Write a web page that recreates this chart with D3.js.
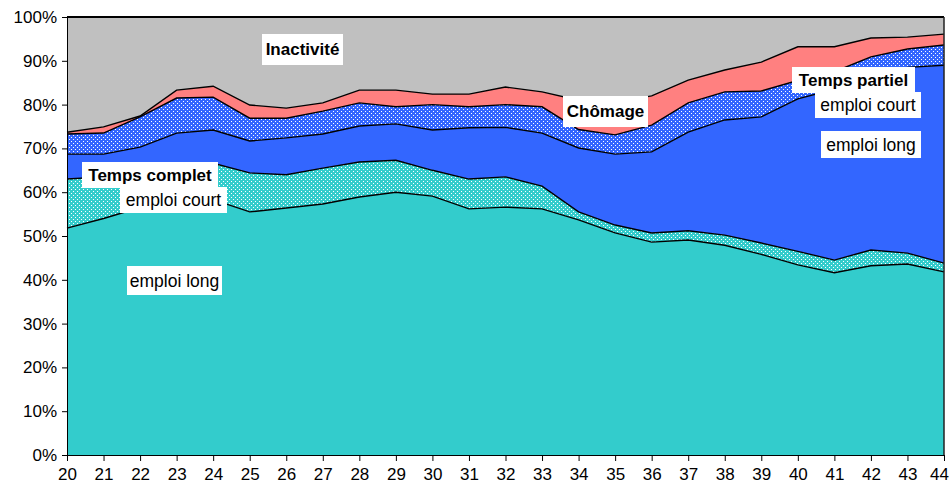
<!DOCTYPE html>
<html>
<head>
<meta charset="utf-8">
<script src="https://cdn.jsdelivr.net/npm/d3@7"></script>
<style>
  body { margin: 0; background: #fff; }
  text { font-family: Arial, "Liberation Sans", sans-serif; }
</style>
</head>
<body>
<svg width="950" height="488"></svg>
<script>
// ages (x categories)
var ages = [20,21,22,23,24,25,26,27,28,29,30,31,32,33,34,35,36,37,38,39,40,41,42,43,44];

// shares in % (stacked from bottom to top)
var tcLong   = [51.8,54.0,56.5,57.8,58.3,55.5,56.4,57.3,58.9,60.0,59.1,56.2,56.6,56.2,53.7,50.7,48.6,49.1,47.9,45.8,43.4,41.6,43.2,43.6,41.8];
var tcCourt  = [11.2,9.5,8.5,8.5,8.3,8.9,7.6,8.2,8.0,7.3,5.9,6.8,6.9,5.2,1.8,1.8,2.1,2.1,2.3,2.6,3.1,2.9,3.6,2.5,2.0];
var tpLong   = [5.7,5.2,5.3,7.2,7.6,7.3,8.4,7.8,8.2,8.3,9.2,11.7,11.3,12.1,14.6,16.2,18.5,22.5,26.3,28.8,34.8,39.0,39.7,42.4,45.2];
var tpCourt  = [4.6,4.8,6.9,8.0,7.5,5.2,4.5,5.2,5.3,3.9,5.8,4.8,5.2,6.0,4.2,4.4,6.1,6.7,6.4,5.9,4.2,4.0,4.4,4.2,4.6];
var chomage  = [0.4,1.4,0.2,1.8,2.5,3.0,2.3,1.9,2.9,3.8,2.4,2.9,4.0,3.4,6.7,7.4,6.7,5.2,5.0,6.6,7.7,5.7,4.3,2.7,2.5];
var inactivite = [26.3,25.1,22.6,16.7,15.8,20.1,20.8,19.6,16.7,16.7,17.6,17.6,16.0,17.1,19.0,19.5,18.0,14.4,12.1,10.3,6.8,6.8,4.8,4.6,3.9];

var yTicks = [0,10,20,30,40,50,60,70,80,90,100];

function main() {
  var svg = d3.select("svg"),
      margin = {top: 17, right: 6, bottom: 33, left: 67},
      width = +svg.attr("width") - margin.left - margin.right,
      height = +svg.attr("height") - margin.top - margin.bottom;

  var keys = ["tcLong","tcCourt","tpLong","tpCourt","chomage","inactivite"];
  var fills = {
    tcLong: "#33CCCC", tcCourt: "url(#dotTeal)",
    tpLong: "#3366FF", tpCourt: "url(#dotBlue)",
    chomage: "#FF8080", inactivite: "#C0C0C0"
  };

  var table = ages.map(function(a, i) {
    return {age: a, tcLong: tcLong[i], tcCourt: tcCourt[i], tpLong: tpLong[i],
            tpCourt: tpCourt[i], chomage: chomage[i], inactivite: inactivite[i]};
  });

  // dotted patterns
  var defs = svg.append("defs");
  [["dotTeal","#33CCCC"],["dotBlue","#3366FF"]].forEach(function(p) {
    var pat = defs.append("pattern").attr("id", p[0])
      .attr("patternUnits","userSpaceOnUse").attr("width",4).attr("height",4);
    pat.append("rect").attr("width",4).attr("height",4).attr("fill",p[1]);
    pat.append("rect").attr("x",0).attr("y",0).attr("width",1).attr("height",1).attr("fill","#fff");
    pat.append("rect").attr("x",2).attr("y",2).attr("width",1).attr("height",1).attr("fill","#fff");
  });

  var g = svg.append("g").attr("transform", `translate(${margin.left},${margin.top})`);

  var x = d3.scaleLinear().domain([ages[0], ages[ages.length-1]]).range([0, width]);
  var y = d3.scaleLinear().domain([0, 100]).range([height, 0]);

  var series = d3.stack().keys(keys)(table);

  var area = d3.area()
    .x(d => x(d.data.age))
    .y0(d => y(d[0]))
    .y1(d => y(d[1]));

  g.selectAll(".layer")
    .data(series)
    .join("path")
      .attr("class","layer")
      .attr("d", area)
      .attr("fill", d => fills[d.key]);

  var line = d3.line().x(d => x(d.data.age)).y(d => y(d[1]));
  g.selectAll(".edge")
    .data(series.slice(0, 5))
    .join("path")
      .attr("class","edge")
      .attr("d", line)
      .attr("fill","none")
      .attr("stroke","#000")
      .attr("stroke-width",1.4);

  // plot frame top/right
  g.append("line").attr("x1",0).attr("x2",width).attr("y1",0).attr("y2",0)
    .attr("stroke","#000").attr("stroke-width",2);
  g.append("line").attr("x1",width).attr("x2",width).attr("y1",0).attr("y2",height)
    .attr("stroke","#222").attr("stroke-width",1.5);

  // axes
  var yAxis = g.append("g")
    .call(d3.axisLeft(y).tickValues(yTicks).tickFormat(d => d + "%").tickSize(5).tickPadding(5));
  yAxis.selectAll("text").style("font-size","17px").attr("fill","#000");
  yAxis.select(".domain").attr("stroke","#000");

  var xAxis = g.append("g")
    .attr("transform", `translate(0,${height})`)
    .call(d3.axisBottom(x).tickValues(ages).tickFormat(d3.format("d")).tickSize(6).tickPadding(7));
  xAxis.selectAll("text").style("font-size","17px").attr("fill","#000");
  xAxis.select(".domain").attr("stroke","#000");
  // keep the last label inside the window
  xAxis.selectAll(".tick").filter(d => d === ages[ages.length-1])
    .select("text").attr("dx", -5);

  // labels with white boxes
  var labels = [
    {t:"Inactivité",    x:262, y:34,  w:81,  h:31, bold:true},
    {t:"Temps complet", x:82,  y:162, w:136, h:26, bold:true},
    {t:"emploi court",  x:120, y:187, w:107, h:26, bold:false},
    {t:"emploi long",   x:127, y:266, w:95,  h:29, bold:false},
    {t:"Chômage",       x:563, y:96,  w:85,  h:31, bold:true},
    {t:"Temps partiel", x:792, y:67,  w:123, h:26, bold:true},
    {t:"emploi court",  x:815, y:92,  w:106, h:26, bold:false},
    {t:"emploi long",   x:821, y:131, w:100, h:27, bold:false}
  ];
  var lg = svg.append("g");
  labels.forEach(function(l) {
    lg.append("rect").attr("x",l.x).attr("y",l.y).attr("width",l.w).attr("height",l.h).attr("fill","#fff");
    lg.append("text").attr("x",l.x + l.w/2).attr("y",l.y + l.h/2)
      .attr("text-anchor","middle").attr("dominant-baseline","central")
      .style("font-size", l.bold ? "17px" : "17.5px").style("font-weight", l.bold ? "bold" : "normal")
      .attr("fill","#000").text(l.t);
  });
}
main();
</script>
</body>
</html>
